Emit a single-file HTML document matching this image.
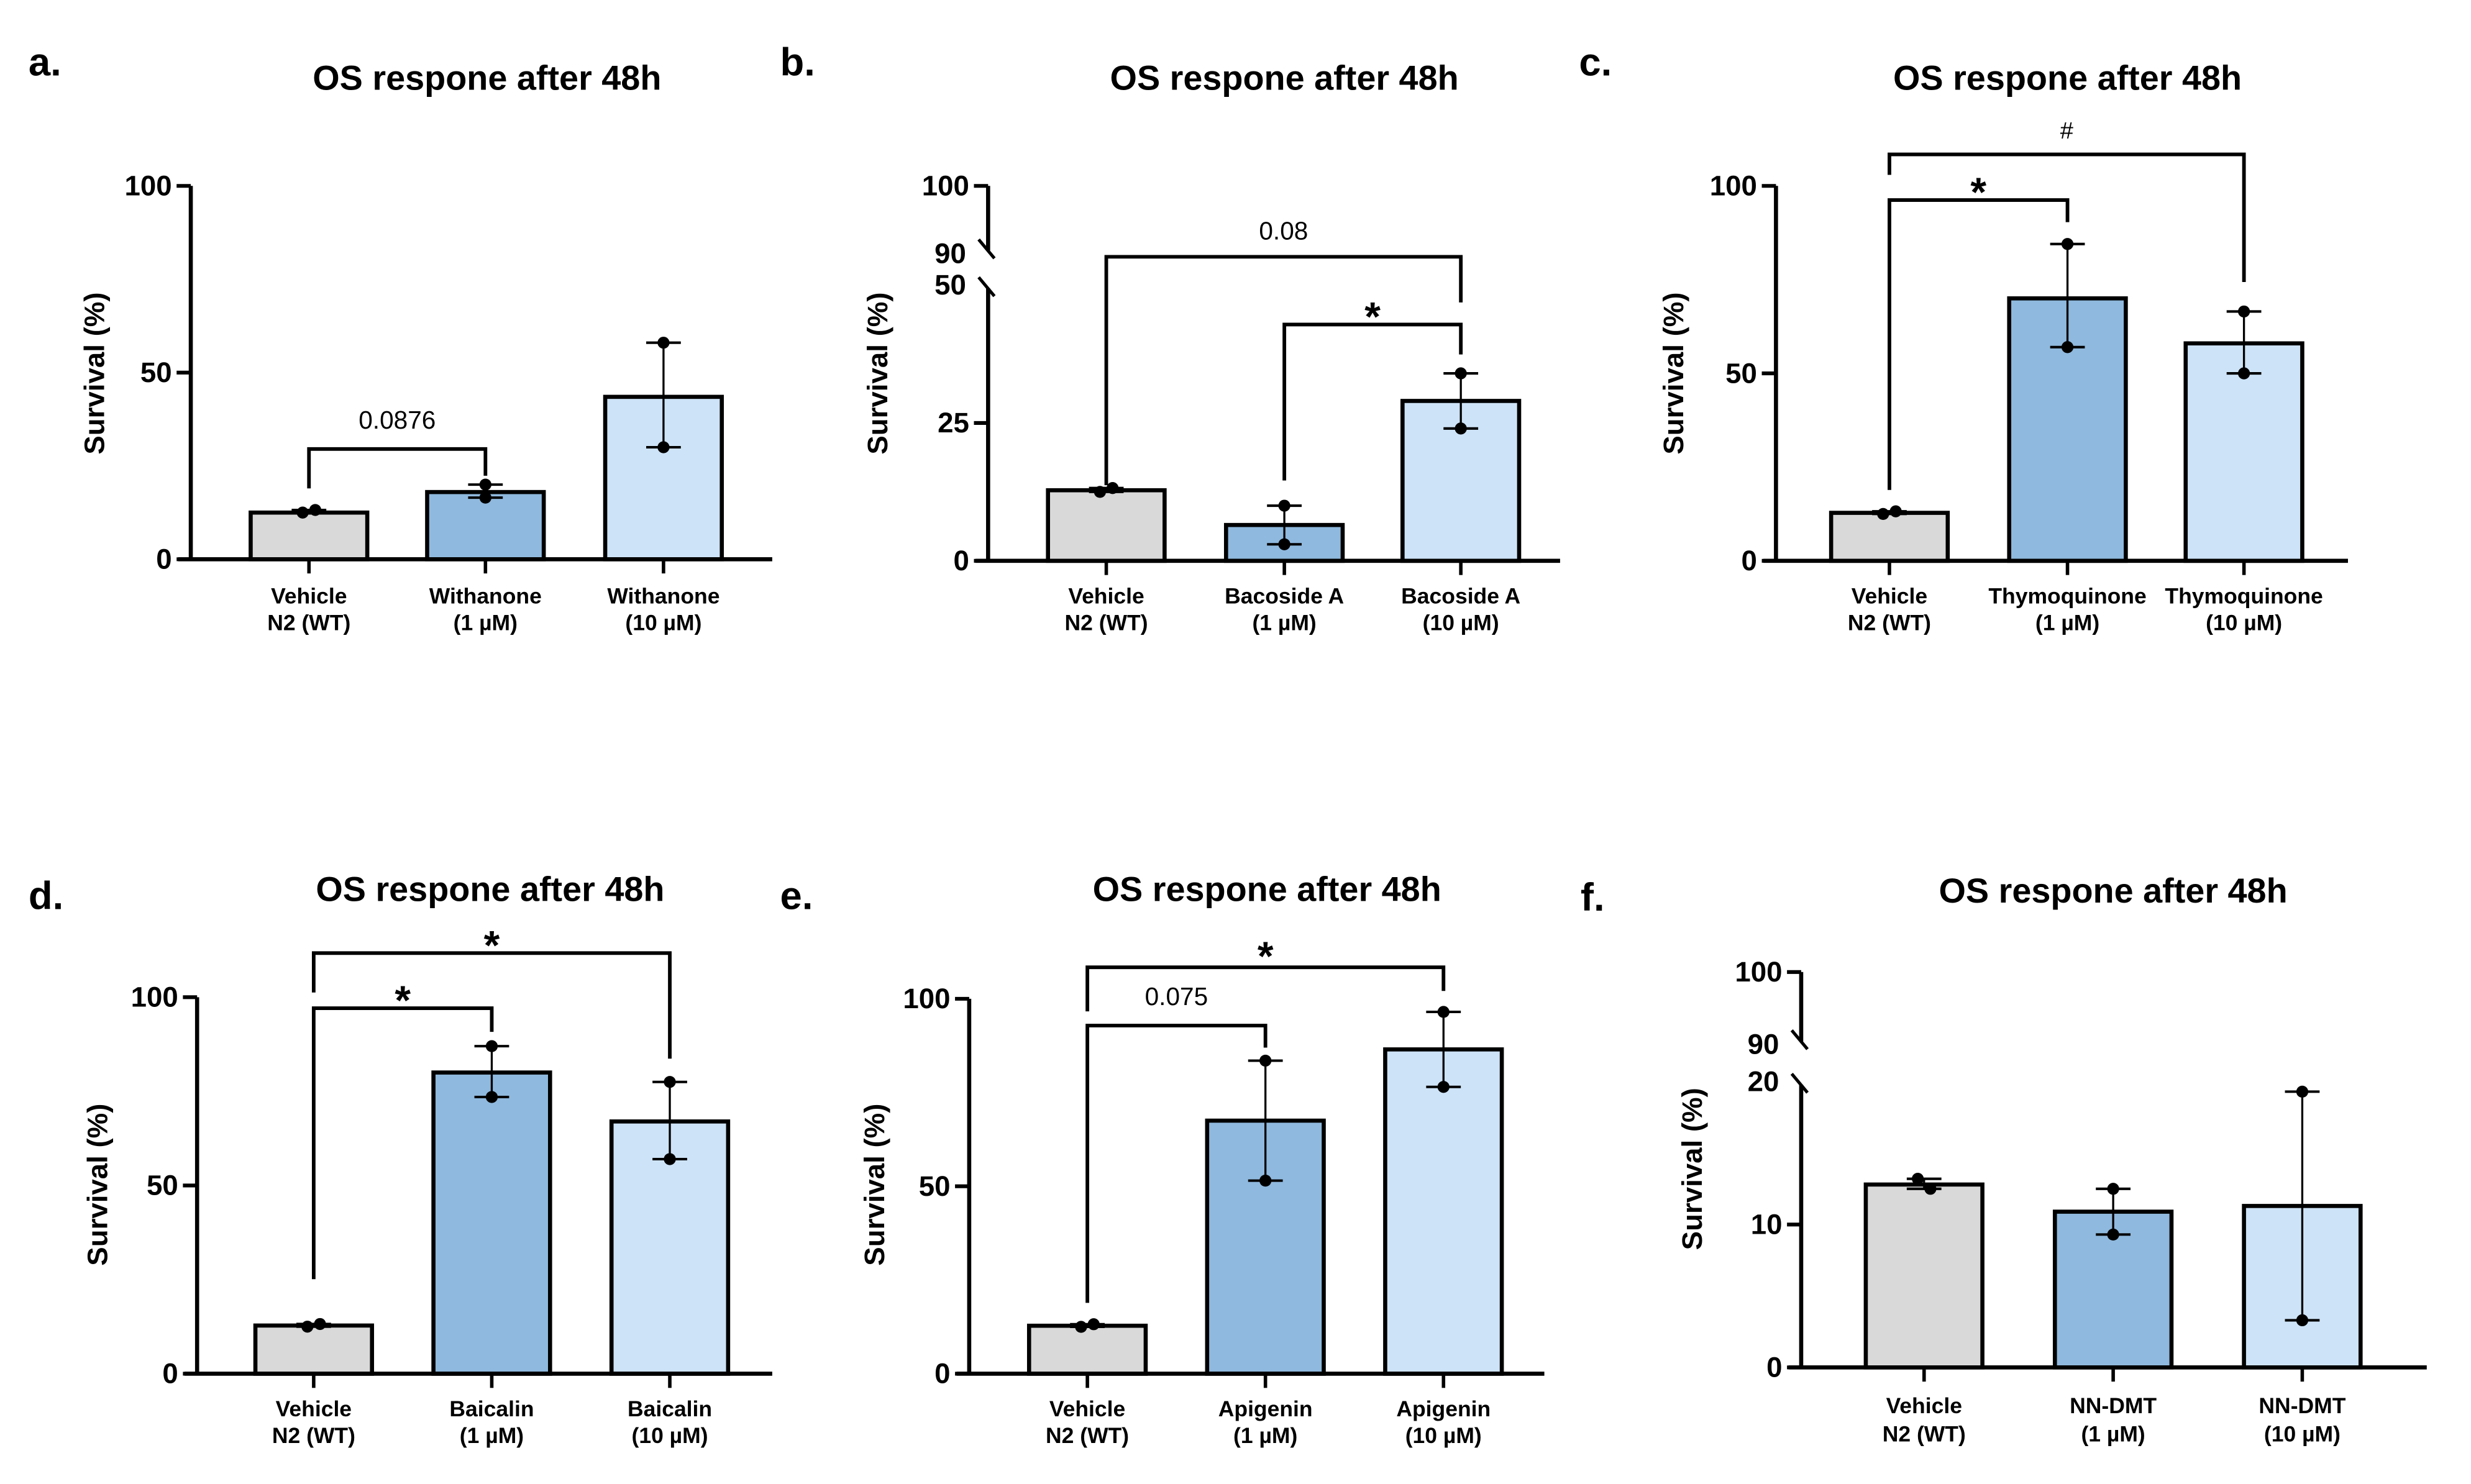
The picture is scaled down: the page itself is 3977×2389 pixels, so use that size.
<!DOCTYPE html>
<html><head><meta charset="utf-8"><style>
html,body{margin:0;padding:0;background:#fff;}
svg{display:block;}
text{font-family:"Liberation Sans Narrow","Liberation Sans",sans-serif;}
</style></head><body>
<svg id="fig" width="3977" height="2389" viewBox="0 0 1568 942" xmlns="http://www.w3.org/2000/svg"></svg>
<script>
// ---- data ----
const panelIds = ['a','b','c','d','e','f'];
const catTopA = ['Vehicle','Withanone','Withanone'];
const catTopB = ['Vehicle','Bacoside A','Bacoside A'];
const catTopC = ['Vehicle','Thymoquinone','Thymoquinone'];
const catTopD = ['Vehicle','Baicalin','Baicalin'];
const catTopE = ['Vehicle','Apigenin','Apigenin'];
const catTopF = ['Vehicle','NN-DMT','NN-DMT'];
const catBottom = ['N2 (WT)','(1 µM)','(10 µM)'];
const meansA = [12.5, 18, 43.5];
const meansB = [12.8, 6.5, 29];
const meansC = [12.8, 70, 58];
const meansD = [12.8, 80, 67];
const meansE = [12.8, 67.5, 86.5];
const meansF = [12.8, 10.9, 11.3];
const pointsA = [[12.5,13.2],[20,16.5],[58,30]];
const pointsB = [[12.5,13.2],[10,3],[34,24]];
const pointsC = [[12.5,13.2],[84.5,57],[66.5,50]];
const pointsD = [[12.5,13.2],[87,73.5],[77.5,57]];
const pointsE = [[12.5,13.2],[83.5,51.5],[96.5,76.5]];
const pointsF = [[13.2,12.5],[12.5,9.3],[19.3,3.3]];
const ticksA = [0,50,100], ticksB=[0,25,50,90,100], ticksC=[0,50,100], ticksD=[0,50,100], ticksE=[0,50,100], ticksF=[0,10,20,90,100];
const sigA = [{i:0,j:1,label:'0.0876'}];
const sigB = [{i:0,j:2,label:'0.08'},{i:1,j:2,label:'*'}];
const sigC = [{i:0,j:2,label:'#'},{i:0,j:1,label:'*'}];
const sigD = [{i:0,j:2,label:'*'},{i:0,j:1,label:'*'}];
const sigE = [{i:0,j:2,label:'*'},{i:0,j:1,label:'0.075'}];
const sigF = [];

// ---- layout ----
const NS='http://www.w3.org/2000/svg';
const svg=document.getElementById('fig');
const fills=['#d9d9d9','#8fb9de','#cde3f7'];
function el(tag,attrs,parent,txt){const e=document.createElementNS(NS,tag);for(const k in attrs)e.setAttribute(k,attrs[k]);if(txt!==undefined)e.textContent=txt;(parent||svg).appendChild(e);return e;}

const layouts=[
 {id:'a',ax:121,end:490,cx:[196,308,421],lo:[0,100,355,118],hi:null,title:[309,57],letter:[18,48],yt:[66,237],cat:[378,395],cats:catTopA,means:meansA,pts:pointsA,ticks:ticksA,sig:sigA,
  br:[{y:285,l:310,r:302,ty:272}]},
 {id:'b',ax:627,end:990,cx:[702,815,927],lo:[0,50,356,181],hi:[90,100,161,118],title:[815,57],letter:[495,48],yt:[563,237],cat:[378,395],cats:catTopB,means:meansB,pts:pointsB,ticks:ticksB,sig:sigB,
  br:[{y:163,l:308,r:192,ty:152},{y:206,l:305,r:225,ty:202}]},
 {id:'c',ax:1127,end:1490,cx:[1199,1312,1424],lo:[0,100,356,118],hi:null,title:[1312,57],letter:[1002,48],yt:[1068,237],cat:[378,395],cats:catTopC,means:meansC,pts:pointsC,ticks:ticksC,sig:sigC,
  br:[{y:98,l:111,r:179,ty:88},{y:127,l:311,r:141,ty:123}]},
 {id:'d',ax:125,end:490,cx:[199,312,425],lo:[0,100,872,633],hi:null,title:[311,572],letter:[18,577],yt:[68,752],cat:[894,911],cats:catTopD,means:meansD,pts:pointsD,ticks:ticksD,sig:sigD,
  br:[{y:605,l:630,r:672,ty:601},{y:640,l:812,r:655,ty:636}]},
 {id:'e',ax:615,end:980,cx:[690,803,916],lo:[0,100,872,634],hi:null,title:[804,572],letter:[495,577],yt:[561,752],cat:[894,911],cats:catTopE,means:meansE,pts:pointsE,ticks:ticksE,sig:sigE,
  br:[{y:614,l:642,r:629,ty:608},{y:651,l:827,r:665,ty:638}]},
 {id:'f',ax:1143,end:1540,cx:[1221,1341,1461],lo:[0,20,868,686.6],hi:[90,100,663,617],title:[1341,573],letter:[1003,578],yt:[1080,742],cat:[892,910],cats:catTopF,means:meansF,pts:pointsF,ticks:ticksF,sig:sigF,
  br:[]}
];

layouts.forEach(P=>{
  const g=el('g',{});
  
  
  function y(v){
    if(P.hi && v>=P.hi[0]){const h=P.hi;return h[2]+(v-h[0])*(h[3]-h[2])/(h[1]-h[0]);}
    const l=P.lo;return l[2]+(v-l[0])*(l[3]-l[2])/(l[1]-l[0]);
  }
  const bw=74;
  const lt=el('text',{x:P.letter[0],y:P.letter[1],'font-size':25,'font-weight':'bold',style:'font-family:"Liberation Sans",sans-serif'},g,P.id+'.');
  
  
  const tt=el('text',{x:P.title[0],y:P.title[1],'font-size':22,'font-weight':'bold','text-anchor':'middle'},g,'OS respone after 48h');
  
  
  const yl=el('text',{x:0,y:0,'font-size':18,'font-weight':'bold','text-anchor':'middle',transform:`translate(${P.yt[0]},${P.yt[1]}) rotate(-90)`,style:'font-family:"Liberation Sans",sans-serif'},g,'Survival (%)');
  
  
  P.means.forEach((m,i)=>{
    const r=el('rect',{x:P.cx[i]-bw/2,y:y(m),width:bw,height:y(0)-y(m),fill:fills[i],stroke:'#000','stroke-width':2.6},g);
    
    
  });
  P.pts.forEach((pp,i)=>{
    const hi=Math.max(...pp),lo=Math.min(...pp);
    const ln=el('line',{x1:P.cx[i],x2:P.cx[i],y1:y(hi),y2:y(lo),stroke:'#000','stroke-width':1.3},g);
    
    
    [hi,lo].forEach(v=>{const c=el('line',{x1:P.cx[i]-11,x2:P.cx[i]+11,y1:y(v),y2:y(v),stroke:'#000','stroke-width':1.6},g);
      
      });
    pp.forEach((v,k)=>{
      const dx = (i===0)?(k===0?-4:4):0;
      const d=el('circle',{cx:P.cx[i]+dx,cy:y(v),r:3.8,fill:'#000'},g);
      
      
    });
  });
  const x0=el('line',{x1:P.ax-8,x2:P.end,y1:y(0),y2:y(0),stroke:'#000','stroke-width':2.6},g);
  
  
  if(P.hi){
    const top=P.hi[3], b1=P.hi[2]-2, b2=P.lo[3]+2;
    const u=el('line',{x1:P.ax,x2:P.ax,y1:top,y2:b1,stroke:'#000','stroke-width':2.6},g);
    
    
    const l=el('line',{x1:P.ax,x2:P.ax,y1:b2,y2:y(0),stroke:'#000','stroke-width':2.6},g);
    
    
    [b1,b2].forEach(yy=>{const s=el('line',{x1:P.ax-6,y1:yy-7,x2:P.ax+4,y2:yy+5,stroke:'#000','stroke-width':2},g);
      
      });
  } else {
    const a=el('line',{x1:P.ax,x2:P.ax,y1:y(P.ticks[P.ticks.length-1]),y2:y(0),stroke:'#000','stroke-width':2.6},g);
    
    
  }
  P.ticks.forEach(t=>{
    const brk = P.hi && (t===P.hi[0] || t===P.lo[1]);
    if(!brk){const tk=el('line',{x1:P.ax-9,x2:P.ax,y1:y(t),y2:y(t),stroke:'#000','stroke-width':2.4},g);
      
      }
    const tx=el('text',{x:P.ax-(brk?14:12),y:y(t)+6,'font-size':18,'font-weight':'bold','text-anchor':'end'},g,String(t));
    
    
  });
  P.cx.forEach((cx,i)=>{
    const tk=el('line',{x1:cx,x2:cx,y1:y(0),y2:y(0)+9,stroke:'#000','stroke-width':2.2},g);
    
    
    const t1=el('text',{x:cx,y:P.cat[0]+5,'font-size':14,'font-weight':'bold','text-anchor':'middle'},g,P.cats[i]);
    
    
    const t2=el('text',{x:cx,y:P.cat[1]+5,'font-size':14,'font-weight':'bold','text-anchor':'middle'},g,catBottom[i]);
    
    
  });
  P.sig.forEach((s,k)=>{
    const b=P.br[k]; const x1=P.cx[s.i], x2=P.cx[s.j];
    const pth=el('path',{d:`M${x1},${b.l}V${b.y}H${x2}V${b.r}`,fill:'none',stroke:'#000','stroke-width':2.3},g);
    
    
    const star = s.label==='*';
    const tx=el('text',{x:(x1+x2)/2,y:star?b.ty+8:b.ty,'font-size':star?26:(s.label==='#'?15:16),'font-weight':star?'bold':'normal','text-anchor':'middle',style:'font-family:"Liberation Sans",sans-serif'},g,s.label);
    
    
  });
});
</script>
</body></html>
